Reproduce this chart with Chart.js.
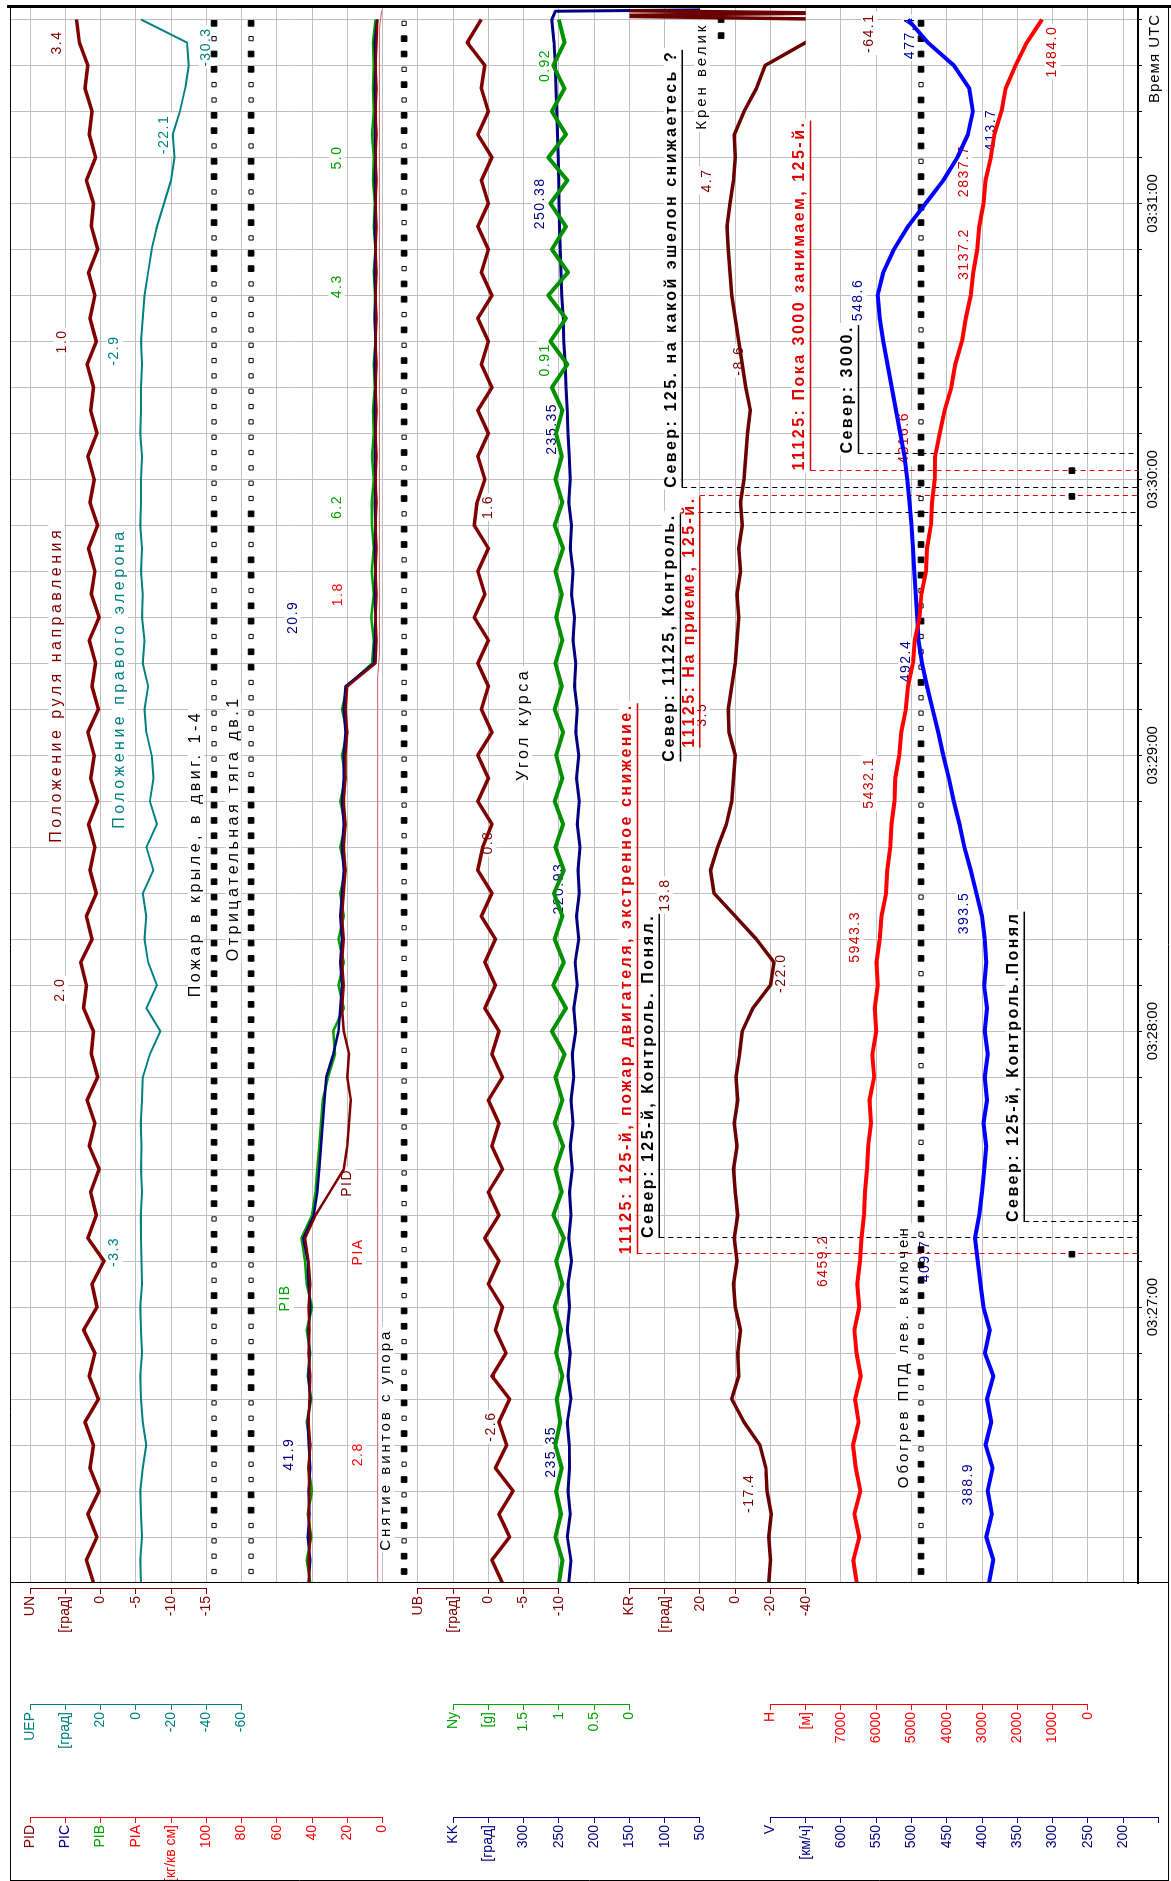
<!DOCTYPE html>
<html>
<head>
<meta charset="utf-8">
<script src="https://cdn.jsdelivr.net/npm/chart.js@4.4.1/dist/chart.umd.min.js"></script>
<style>
  html, body { margin: 0; padding: 0; background: #fff; overflow: hidden; width: 1171px; height: 1881px; }
  /* the recorder plot is drawn landscape and turned a quarter turn, like the original printout */
  #wrap { position: absolute; left: 0; top: 0; width: 1881px; height: 1171px;
          transform-origin: 0 0; transform: translateY(1881px) rotate(-90deg); }
</style>
</head>
<body>
<div id="wrap"><canvas id="fdr" width="1881" height="1171"></canvas></div>
<script>
// time in seconds after 03:26:00
const sec = Array.from({ length: 69 }, (_, i) => i * 5);

const unDeg = [
  1.0, 2.0, 0.5, 1.8, 0.2, 1.5, 1.0, 2.2, 0.3, 1.6,
  0.8, 2.4, 0.5, 1.2, -0.5, 1.8, 0.6, 1.4, 0.2, 1.6,
  0.8, 1.9, 0.4, 1.3, 1.0, 2.4, 2.0, 2.8, 1.2, 2.0,
  0.6, 1.5, 0.8, 1.7, 0.4, 1.4, 0.9, 1.8, 0.3, 1.2,
  0.7, 1.6, 0.2, 1.3, 0.8, 1.7, 0.4, 1.5, 0.9, 1.8,
  0.5, 1.4, 1.0, 1.9, 0.6, 1.5, 0.8, 1.7, 0.4, 1.3,
  1.0, 2.0, 0.7, 1.6, 1.2, 2.2, 1.8, 3.0, 3.4];
const uepDeg = [
  -3, -2.5, -3.5, -3, -2.5, -4, -6, -4, -3, -2.5,
  -3.5, -3, -2.5, -3.5, -3.3, -3, -2.8, -3.5, -3, -3.2,
  -2.8, -3.5, -4, -8, -14, -6, -12, -7, -5, -6,
  -4, -10, -6, -12, -8, -10, -9, -6, -5, -7,
  -4, -5, -3.5, -4, -3, -3.5, -2.5, -3, -2.9, -3.5,
  -2.5, -3, -2.9, -3.5, -3, -4, -5, -7, -9, -12,
  -16, -20, -22, -21, -25, -28, -30, -29, -3];
const picBar = [
  42, 41, 42.5, 41.5, 42, 41, 41.9, 42.5, 41, 42,
  41.5, 42, 41, 42, 42.5, 45, 39, 37, 36, 35,
  34, 33, 32, 28, 25, 24, 23, 24, 23, 24,
  23, 22, 23, 22, 23, 22, 22, 21, 22, 21,
  5, 4.5, 4, 4.5, 4, 4.5, 4, 4.5, 4, 4.5,
  4, 4.5, 4, 4.5, 4, 4.5, 4, 4.5, 4, 4.5,
  4, 4.5, 4, 4.5, 4, 4.5, 4, 4.5, 3];
const pibBar = [
  41, 43, 40.5, 42.5, 40, 42, 41, 43, 40.5, 42.5,
  41, 43, 40, 43, 44, 46, 40, 38, 37, 36,
  35, 34, 31, 27, 28, 22, 25, 22, 25, 22,
  24, 21, 24, 21, 24, 21, 23, 20, 23, 20,
  6, 5, 6.5, 5, 6.2, 5, 6, 6.2, 5, 6,
  5, 5.5, 4.5, 5, 4, 4.5, 4.3, 5, 4, 5,
  4.5, 5.5, 5, 6, 5, 5.5, 5, 5.5, 4];
const pidBar = [
  41.5, 42, 41, 42, 41.5, 42, 41, 42, 41.5, 41,
  42, 41.5, 42, 41, 42, 44, 38, 30, 22, 20,
  19, 18, 20, 19, 22, 23, 22, 23, 22, 23,
  22, 21, 22, 21, 22, 21, 21, 20, 21, 20,
  4, 3.5, 4, 3.5, 4, 3.5, 4, 3.5, 4, 3.5,
  4, 3.5, 4, 3.5, 4, 3.5, 4, 3.5, 4, 3.5,
  4, 3.5, 4, 3.5, 4, 3.5, 4, 3.5, 3];
const piaSec = [0, 197, 202, 338, 342];
const piaBar = [2.8, 2.8, 1.8, 1.8, 0.5];
const ubDeg = [
  -2, -0.5, -3, -1.5, -3.5, -1, -2.6, -1.5, -3, -0.5,
  -2.5, -1, -2, 0, -1.5, 0.5, -1.5, 0, -2, -0.5,
  -1.5, 0, -2, -0.5, -1.5, 0.5, -1, 0.5, -1, 1,
  -0.5, 1.5, 0.8, -0.5, 1.5, 0, 1.5, -0.5, 1, 0,
  1.5, 0, 2, 0.5, 1.5, 0, 2, 1.6, 0.5, 1.5,
  0, 1.5, -0.5, 1, 0, 1.5, -0.5, 1, 0, 1.5,
  0, 1, -0.5, 1.5, 0, 1, 0.5, 3, 1];
const nyG = [
  1.0, 0.95, 1.05, 0.97, 1.04, 0.96, 1.05, 0.98, 1.03, 0.95,
  1.04, 0.97, 1.06, 0.95, 1.04, 0.93, 1.08, 0.96, 1.05, 0.94,
  1.06, 0.95, 1.05, 0.92, 1.1, 0.9, 1.08, 0.93, 1.06, 0.95,
  1.07, 0.93, 1.05, 0.94, 1.06, 0.95, 1.04, 0.94, 1.06, 0.96,
  1.05, 0.95, 1.04, 0.96, 1.05, 0.94, 1.06, 0.95, 1.05, 0.96,
  1.04, 0.95, 1.1, 0.88, 1.12, 0.9, 1.15, 0.87, 1.1, 0.9,
  1.12, 0.88, 1.15, 0.9, 1.1, 0.92, 1.08, 0.92, 1.0];
const kkDeg = [
  236, 233, 238, 234, 237, 235, 235.35, 238, 233, 237,
  234, 238, 235, 237, 232, 236, 233, 235, 231, 234,
  230, 233, 229, 231, 226, 229, 224, 227, 222, 225,
  221, 223, 220, 224, 221, 225, 222, 226, 224, 228,
  226, 230, 228, 232, 230, 234, 232, 236, 234, 235.35,
  237, 238, 240, 241, 243, 244, 246, 247, 248, 249,
  250, 250.38, 251, 252, 253, 254, 255, 257, 260];
const kkTailSec = [341.8, 342.4];
const kkTail = [255, -165];
const krDeg = [
  -19, -20, -19, -20.5, -18, -17.4, -14, -5, 2, -2,
  -1.5, -3, 0, 1, -1, 0.5, -1.5, 0, 1, -1,
  0.5, -1.5, -0.5, -2.5, -4, -10, -20, -22, -12, 0,
  12, 14, 10, 5, 2, 1, 0, 3.5, 4, 2,
  0, -1, -2, -1, -3, -2, -4, -3, -5, -6,
  -7, -8.6, -6, -4, -2, 0, 2, 3, 4, 4.7,
  3, 1, 0, 0.5, -5, -12, -17, -40, -64];
const krTailSec = [340.8, 341.4, 342];
const krTail = [84, -52, 80];
const hM = [
  6550, 6650, 6480, 6620, 6450, 6580, 6660, 6500, 6600, 6440,
  6560, 6620, 6480, 6540, 6459, 6420, 6350, 6320, 6260, 6230,
  6150, 6190, 6060, 6110, 6000, 6040, 5960, 5990, 5900, 5850,
  5720, 5690, 5600, 5570, 5480, 5460, 5350, 5290, 5160, 5100,
  4960, 4910, 4770, 4720, 4590, 4560, 4450, 4420, 4340, 4330,
  4200, 4060, 3870, 3760, 3570, 3460, 3320, 3250, 3137, 3080,
  2960, 2900, 2750, 2650, 2450, 2330, 2050, 1730, 1300];
const vKmh = [
  390, 384, 394, 386, 392, 385, 395, 387, 393, 384,
  396, 389, 398, 402, 406, 410, 404, 400, 397, 394,
  398, 393, 396, 392, 396, 393, 397, 394, 396, 400,
  408, 416, 425, 432, 440, 447, 455, 462, 470, 478,
  485, 490, 492, 494, 496, 498, 500, 503, 506, 510,
  516, 522, 528, 534, 540, 545, 548, 540, 525, 505,
  480, 455, 435, 420, 413, 418, 440, 477, 505];

// discrete signals: one sample every 10/3 s, 1 = on (filled square), 0 = off (open square)
const sigSec = Array.from({ length: 102 }, (_, k) => 2.5 + k * 10 / 3);
const fireWing = [
  0,0,0,0,1,1,0,0,1,1, 0,0,1,1,1,0,0,1,1,0, 0,1,1,0,1,1,1,1,1,1, 1,1,1,1,1,1,1,1,1,1,
  1,1,1,1,1,1,1,1,1,1, 1,1,1,0,0,0,0,0,0,1, 1,0,1,1,0,1,1,0,1,1, 0,0,0,0,0,0,0,0,0,0,
  0,0,0,0,0,1,1,0,1,1, 0,1,1,0,1,1,0,0,1,1, 0,1];
const negThrust = [
  0,0,0,0,1,1,0,0,1,1, 0,0,1,1,1,0,0,1,1,0, 0,1,1,0,1,1,1,1,1,1, 1,1,1,1,1,1,1,1,1,1,
  1,1,1,1,1,1,1,1,1,1, 1,1,0,0,0,0,0,0,0,1, 1,0,1,1,0,1,1,0,1,1, 0,0,0,0,0,0,0,0,0,0,
  0,0,0,0,0,1,1,0,1,1, 0,1,1,0,1,1,0,0,1,1, 0,1];
const propStop = [
  1,1,0,1,1,0,1,0,1,1, 0,1,1,0,1,0,1,1,0,1, 1,0,1,1,0,1,0,1,1,0, 1,1,0,1,0,1,1,0,1,1,
  0,1,0,1,1,0,1,1,0,1, 0,1,1,0,1,1,0,1,0,1, 1,0,1,1,0,1,0,1,1,0, 1,1,0,1,0,1,1,0,1,1,
  0,1,0,1,1,0,1,1,0,1, 0,1,1,0,1,1,0,1,0,1, 1,0];
const ppdHeat = [
  1,1,1,0,1,1,1,1,0,1, 1,0,0,1,0,1,0,1,1,1, 1,1,0,1,1,1,1,1,0,1, 1,1,1,0,1,1,1,1,1,0,
  1,1,1,1,0,1,1,1,1,1, 0,1,1,1,1,0,0,0,1,0, 0,0,1,0,0,1,1,1,1,1, 0,1,1,1,1,0,1,1,1,1,
  1,0,1,1,1,1,1,0,1,1, 1,1,0,1,1,1,1,0,1,1, 1,1];
const bankOnSec = [336.5, 340];
const radioOnSec = [71.5, 236.3, 241.9];

const C = { maroon: '#800000', teal: '#008080', green: '#00a000', navy: '#000080',
            red: '#ff0000', blue: '#0000ff', vlab: '#000099', hlab: '#cc0000', grid: '#c0c0c0' };
const FONT = "'Liberation Sans', Arial, sans-serif";

// horizontal grid rows of the landscape plot
const ROW0 = 30, ROW_H = 35.26;
const rowY = r => ROW0 + ROW_H * r;

const axes = [
  { id: 'un', x: 292, r0: 0, v0: 10, dv: -5, color: C.maroon, labels: ['UN', '[град]', '0', '-5', '-10', '-15'] },
  { id: 'ub', x: 292, r0: 11, v0: 10, dv: -5, color: C.maroon, labels: ['UB', '[град]', '0', '-5', '-10'] },
  { id: 'kr', x: 292, r0: 17, v0: 60, dv: -20, color: C.maroon, labels: ['KR', '[град]', '20', '0', '-20', '-40'] },
  { id: 'uep', x: 176, r0: 0, v0: 60, dv: -20, color: C.teal, labels: ['UEP', '[град]', '20', '0', '-20', '-40', '-60'] },
  { id: 'ny', x: 176, r0: 12, v0: 2.5, dv: -0.5, color: C.green, labels: ['Ny', '[g]', '1.5', '1', '0.5', '0'] },
  { id: 'h', x: 176, r0: 21, v0: 9000, dv: -1000, color: C.red, labels: ['H', '[м]', '7000', '6000', '5000', '4000', '3000', '2000', '1000', '0'] },
  { id: 'pi', x: 63, r0: 0, v0: 200, dv: -20, color: C.red, labels: ['PID', 'PIC', 'PIB', 'PIA', '[кг/кв см]', '100', '80', '60', '40', '20', '0'],
    tickColors: [C.maroon, C.navy, C.green, C.red] },
  { id: 'kk', x: 63, r0: 12, v0: 400, dv: -50, color: C.navy, labels: ['KK', '[град]', '300', '250', '200', '150', '100', '50'] },
  { id: 'v', x: 63, r0: 21, v0: 700, dv: -50, color: C.navy, labels: ['V', '[км/ч]', '600', '550', '500', '450', '400', '350', '300', '250', '200', ''] }
];

const valueLabels = [
  ['3.4', 335, 0.77, C.maroon], ['1.0', 270, 0.9, C.maroon], ['2.0', 129, 0.85, C.maroon],
  ['-3.3', 72, 2.4, C.teal], ['-2.9', 268, 2.4, C.teal], ['-22.1', 315, 3.8, C.teal], ['-30.3', 334, 5.0, C.teal],
  ['41.9', 28, 7.35, C.navy], ['2.8', 28, 9.3, C.red], ['PIB', 62, 7.25, C.green], ['PIA', 72, 9.3, C.red],
  ['PID', 87, 9.0, C.maroon], ['20.9', 210, 7.45, C.navy], ['1.8', 215, 8.75, C.red],
  ['6.2', 234, 8.7, C.green], ['4.3', 282, 8.7, C.green], ['5.0', 310, 8.7, C.green],
  ['-2.6', 34, 13.07, C.maroon], ['0.8', 161, 13.0, C.maroon], ['1.6', 234, 13.0, C.maroon],
  ['0.91', 266, 14.6, C.green], ['0.92', 330, 14.6, C.green],
  ['235.35', 28.5, 14.78, C.navy], ['220.93', 151, 15.0, C.navy], ['235.35', 251, 14.8, C.navy], ['250.38', 300, 14.46, C.navy],
  ['-17.4', 19.5, 20.4, C.maroon], ['-22.0', 132.6, 21.3, C.maroon], ['13.8', 149.6, 18.0, C.maroon],
  ['3.5', 188.8, 19.06, C.maroon], ['-8.6', 265.8, 20.1, C.maroon], ['4.7', 305, 19.2, C.maroon], ['-64.1', 337, 23.8, C.maroon],
  ['6459.2', 70, 22.5, C.hlab], ['5943.3', 140.5, 23.4, C.hlab], ['5432.1', 174, 23.8, C.hlab], ['4316.6', 249, 24.8, C.hlab],
  ['3137.2', 289, 26.5, C.hlab], ['2837.7', 307, 26.5, C.hlab], ['1484.0', 333, 29.0, C.hlab],
  ['388.9', 21.5, 26.6, C.vlab], ['409.7', 70, 25.4, C.vlab], ['393.5', 145.7, 26.5, C.vlab], ['492.4', 200.5, 24.85, C.vlab],
  ['548.6', 279, 23.5, C.vlab], ['477.4', 336, 24.95, C.vlab], ['413.7', 316, 27.25, C.vlab]
];

// signal captions: text, start time, row, colour, font size, letter spacing
const signalLabels = [
  ['Положение руля направления', 161, 0.75, C.maroon, 16, '3.5px'],
  ['Положение правого элерона', 164, 2.55, C.teal, 16, '3.5px'],
  ['Пожар в крыле, в двиг. 1-4', 127.4, 4.71, '#000', 16, '3.5px'],
  ['Отрицательная тяга дв.1', 135.2, 5.77, '#000', 16, '3.5px'],
  ['Снятие винтов с упора', 7, 10.1, '#000', 15, '3px'],
  ['Угол курса', 174.4, 14.0, '#000', 16, '3.5px'],
  ['Обогрев ППД лев. включен', 20.6, 24.79, '#000', 15, '3px'],
  ['Крен велик', 316, 19.06, '#000', 15, '3px']
];

// radio exchanges: text, colour, event time, row, anchor ('start' = text begins at the event)
const radio = [
  ['11125: 125-й, пожар двигателя, экстренное снижение.', '#e00000', 71.5, 16.93, 'start'],
  ['Север: 125-й, Контроль. Понял.', '#000', 75.0, 17.55, 'start'],
  ['Север: 125-й, Контроль.Понял', '#000', 78.5, 27.9, 'start'],
  ['Север: 11125, Контроль.', '#000', 232.6, 18.15, 'end'],
  ['11125: На приеме, 125-й.', '#e00000', 236.3, 18.7, 'end'],
  ['Север: 125. на какой эшелон снижаетесь ?', '#000', 238.2, 18.2, 'start'],
  ['11125: Пока 3000 занимаем, 125-й.', '#e00000', 241.9, 21.84, 'start'],
  ['Север: 3000.', '#000', 245.6, 23.2, 'start']
];

const SIG_ROWS = { fire: 5.22, neg: 6.27, prop: 10.61, bank: 19.6, ppd: 25.27, radio: 29.55 };

Chart.defaults.font.family = FONT;
Chart.defaults.font.size = 14;
Chart.defaults.color = '#000';

const pad2 = n => String(n).padStart(2, '0');
const scales = {
  x: {
    type: 'linear', position: 'bottom', min: 0, max: 342.5,
    afterFit: s => { s.height = 33; },
    afterBuildTicks: s => { s.ticks = Array.from({ length: 35 }, (_, i) => ({ value: i * 10 })); },
    ticks: { autoSkip: false, maxRotation: 0, padding: 2, font: { size: 15 },
             callback: v => (v > 0 && v % 60 === 0) ? '03:' + pad2(26 + v / 60) + ':00' : '' },
    grid: { color: C.grid, tickLength: 4, tickColor: '#000' },
    border: { color: '#000', width: 2 }
  },
  gy: {
    type: 'linear', position: 'left', reverse: true,
    min: (10 - ROW0) / ROW_H, max: (1138 - ROW0) / ROW_H,
    afterFit: s => { s.width = 0; s.paddingTop = 0; s.paddingBottom = 0; },
    afterBuildTicks: s => { s.ticks = Array.from({ length: 32 }, (_, k) => ({ value: k })); },
    ticks: { display: false },
    grid: { color: C.grid, drawTicks: false },
    border: { display: false }
  }
};
for (const a of axes) {
  const vEnd = a.v0 + a.dv * (a.labels.length - 1);
  scales[a.id] = {
    type: 'linear', position: 'left', min: Math.min(a.v0, vEnd), max: Math.max(a.v0, vEnd),
    afterFit: s => { s.width = 0; s.paddingTop = 0; s.paddingBottom = 0; },
    afterBuildTicks: s => { s.ticks = a.labels.map((_, i) => ({ value: a.v0 + a.dv * i })); },
    ticks: { autoSkip: false, padding: 2, font: { size: 14 },
             color: c => (a.tickColors && a.tickColors[c.index]) || a.color,
             callback: (v, i) => a.labels[i] },
    grid: { drawOnChartArea: false, tickLength: 5, tickColor: a.color },
    border: { color: a.color }
  };
}

const trace = (vals, axis, color, width, times) => ({
  data: (times || sec).map((t, i) => ({ x: t, y: vals[i] })),
  yAxisID: axis, borderColor: color, borderWidth: width, pointRadius: 0, tension: 0, fill: false,
  borderJoinStyle: 'round'
});
const marks = (times, row, filled) => ({
  data: times.map(t => ({ x: t, y: row })), yAxisID: 'gy', showLine: false,
  pointStyle: 'rect', pointRadius: filled ? 4 : 3,
  pointBackgroundColor: filled ? '#000' : '#fff', pointBorderColor: '#000', pointBorderWidth: 1
});
const sigSets = (states, row) => [
  marks(sigSec.filter((t, i) => states[i] === 1), row, true),
  marks(sigSec.filter((t, i) => states[i] === 0), row, false)
];

const datasets = [
  trace(krDeg.concat(krTail), 'kr', '#6b0000', 3.5, sec.concat(krTailSec)),
  trace(unDeg, 'un', C.maroon, 3.5),
  trace(ubDeg, 'ub', C.maroon, 3.5),
  trace(hM, 'h', C.red, 4),
  trace(vKmh, 'v', C.blue, 4),
  trace(nyG, 'ny', '#009000', 4),
  trace(kkDeg.concat(kkTail), 'kk', C.navy, 3, sec.concat(kkTailSec)),
  trace(pidBar, 'pi', C.maroon, 2.5),
  trace(picBar, 'pi', C.navy, 2.5),
  trace(pibBar, 'pi', C.green, 2.5),
  trace(piaBar, 'pi', '#d06060', 1, piaSec),
  trace(uepDeg, 'uep', C.teal, 2),
  ...sigSets(fireWing, SIG_ROWS.fire),
  ...sigSets(negThrust, SIG_ROWS.neg),
  ...sigSets(propStop, SIG_ROWS.prop),
  ...sigSets(ppdHeat, SIG_ROWS.ppd),
  marks(bankOnSec, SIG_ROWS.bank, true),
  marks(radioOnSec, SIG_ROWS.radio, true)
];

function boxText(ctx, txt, x, y, color, font, spacing, align) {
  ctx.font = font;
  ctx.letterSpacing = spacing;
  const w = ctx.measureText(txt).width;
  const x0 = align === 'center' ? x - w / 2 : align === 'end' ? x - w : x;
  ctx.fillStyle = '#fff';
  ctx.fillRect(x0 - 2, y - 8, w + 4, 16);
  ctx.fillStyle = color;
  ctx.textAlign = 'left';
  ctx.textBaseline = 'middle';
  ctx.fillText(txt, x0, y);
  return { x0, w };
}

const annotations = {
  id: 'annotations',
  afterLayout(chart) {
    // put every recorder axis at its own place in the left panel
    for (const a of axes) {
      const s = chart.scales[a.id];
      s.left = a.x - 90; s.right = a.x; s.width = 90;
      s.top = rowY(a.r0); s.bottom = rowY(a.r0 + a.labels.length - 1); s.height = s.bottom - s.top;
      s.configure();
    }
  },
  beforeDatasetsDraw(chart) {
    const { ctx, scales: { x, gy } } = chart;
    ctx.save();
    for (const [txt, t, r, col, size, ls] of signalLabels) {
      boxText(ctx, txt, x.getPixelForValue(t), gy.getPixelForValue(r), col, size + 'px ' + FONT, ls, 'start');
    }
    for (const [txt, t, r, col] of valueLabels) {
      boxText(ctx, txt, x.getPixelForValue(t), gy.getPixelForValue(r), col, '14px ' + FONT, '1.5px', 'center');
    }
    for (const [txt, col, tEv, r, anchor] of radio) {
      const xe = x.getPixelForValue(tEv), y = gy.getPixelForValue(r);
      const { x0, w } = boxText(ctx, txt, xe, y, col, 'bold 16px ' + FONT, '2.5px', anchor);
      ctx.letterSpacing = '0px';
      ctx.strokeStyle = col; ctx.lineWidth = 1.5;
      ctx.beginPath();
      ctx.moveTo(x0, y + 10.5); ctx.lineTo(x0 + w, y + 10.5);
      ctx.stroke();
      ctx.lineWidth = 1;
      ctx.setLineDash([5, 4]);
      ctx.beginPath();
      ctx.moveTo(Math.round(xe) + 0.5, y + 10.5); ctx.lineTo(Math.round(xe) + 0.5, chart.chartArea.bottom);
      ctx.stroke();
      ctx.setLineDash([]);
    }
    ctx.restore();
  },
  afterDraw(chart) {
    const { ctx, chartArea: a } = chart;
    ctx.save();
    ctx.strokeStyle = '#000';
    ctx.lineWidth = 1;
    ctx.beginPath();
    ctx.moveTo(0, 10.5); ctx.lineTo(a.right, 10.5);
    ctx.moveTo(0, 1168.5); ctx.lineTo(a.right, 1168.5);
    ctx.moveTo(a.left + 0.5, 10); ctx.lineTo(a.left + 0.5, 1169);
    ctx.moveTo(0.5, 10); ctx.lineTo(0.5, 1169);
    ctx.stroke();
    ctx.lineWidth = 3;
    ctx.beginPath();
    ctx.moveTo(a.right + 1.5, 7); ctx.lineTo(a.right + 1.5, 1171);
    ctx.stroke();
    ctx.font = '15px ' + FONT;
    ctx.letterSpacing = '1px';
    ctx.fillStyle = '#000';
    ctx.textAlign = 'right';
    ctx.textBaseline = 'middle';
    ctx.fillText('Время UTC', a.right - 6, 1155);
    ctx.restore();
  }
};

new Chart(document.getElementById('fdr').getContext('2d'), {
  type: 'line',
  data: { datasets },
  options: {
    responsive: false,
    animation: false,
    layout: { padding: { left: 298, right: 8, top: 10, bottom: 0 } },
    plugins: { legend: { display: false }, tooltip: { enabled: false } },
    scales
  },
  plugins: [annotations]
});
</script>
</body>
</html>
